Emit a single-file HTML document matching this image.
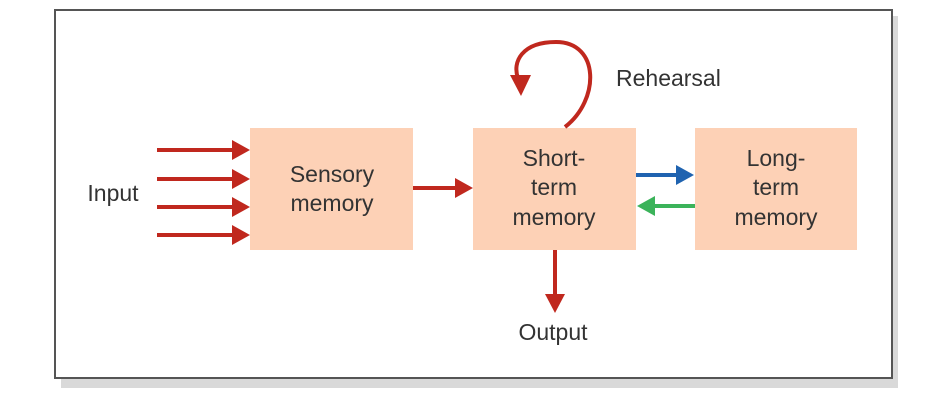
<!DOCTYPE html>
<html><head><meta charset="utf-8"><style>
body{margin:0;background:#fff;width:936px;height:414px;overflow:hidden}
</style></head><body>
<svg width="936" height="414" xmlns="http://www.w3.org/2000/svg" font-family="Liberation Sans, sans-serif" font-size="23" fill="#333">
<rect x="61" y="16" width="837" height="372" fill="#d9d9d9"/>
<rect x="55" y="10" width="837" height="368" fill="#fff" stroke="#555" stroke-width="2"/>
<g fill="#fdd1b6">
<rect x="250" y="128" width="163" height="122"/>
<rect x="473" y="128" width="163" height="122"/>
<rect x="695" y="128" width="162" height="122"/>
</g>
<g stroke="#c0281e" stroke-width="4" fill="none">
<line x1="157" y1="150" x2="234" y2="150"/>
<line x1="157" y1="179" x2="234" y2="179"/>
<line x1="157" y1="207" x2="234" y2="207"/>
<line x1="157" y1="235" x2="234" y2="235"/>
<line x1="413" y1="188" x2="456" y2="188"/>
<line x1="555" y1="250" x2="555" y2="296"/>
<path d="M565 127 C600 100 600 42 556 42 C522 42 512 62 518 78"/>
</g>
<g fill="#c0281e">
<polygon points="232,140 250,150 232,160"/>
<polygon points="232,169 250,179 232,189"/>
<polygon points="232,197 250,207 232,217"/>
<polygon points="232,225 250,235 232,245"/>
<polygon points="455,178 473,188 455,198"/>
<polygon points="545,294 555,313 565,294"/>
<polygon points="510,75 531,75 521,96"/>
</g>
<line x1="636" y1="175" x2="678" y2="175" stroke="#1f63b0" stroke-width="4"/>
<polygon points="676,165 694,175 676,185" fill="#1f63b0"/>
<line x1="695" y1="206" x2="652" y2="206" stroke="#3bb35a" stroke-width="4"/>
<polygon points="655,196 637,206 655,216" fill="#3bb35a"/>
<g text-anchor="middle">
<text x="113" y="201">Input</text>
<text x="332" y="182">Sensory</text>
<text x="332" y="211">memory</text>
<text x="554" y="166">Short-</text>
<text x="554" y="195">term</text>
<text x="554" y="225">memory</text>
<text x="776" y="166">Long-</text>
<text x="776" y="195">term</text>
<text x="776" y="225">memory</text>
<text x="553" y="340">Output</text>
</g>
<text x="616" y="86">Rehearsal</text>
</svg>
</body></html>
